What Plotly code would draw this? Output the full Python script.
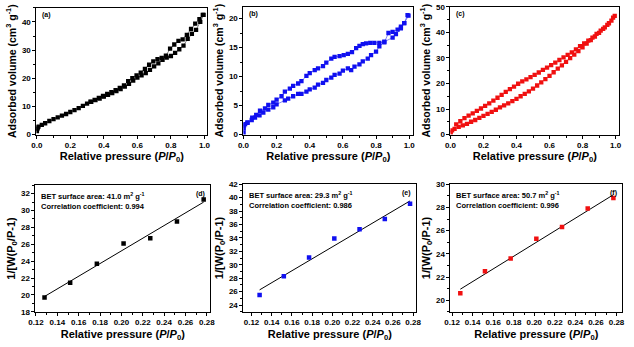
import numpy as np
import plotly.graph_objects as go

# ---- N2 adsorption/desorption isotherms ----
a_ads_x = [0.001, 0.003, 0.006, 0.01, 0.03, 0.05, 0.075, 0.1, 0.125, 0.15, 0.175, 0.2, 0.225, 0.25,
           0.275, 0.3, 0.325, 0.35, 0.375, 0.4, 0.425, 0.45, 0.475, 0.5, 0.525, 0.55, 0.575, 0.6,
           0.625, 0.65, 0.675, 0.7, 0.725, 0.75, 0.775, 0.8, 0.825, 0.85, 0.875, 0.9, 0.925, 0.95,
           0.975, 0.995]
a_ads_y = [1.2, 2.0, 2.5, 2.8, 3.4, 4.0, 4.8, 5.5, 6.1, 6.7, 7.3, 8.0, 8.7, 9.4, 10.2, 11.0, 11.6,
           12.2, 12.8, 13.5, 14.1, 14.7, 15.4, 16.1, 17.0, 18.0, 19.2, 20.2, 21.0, 21.8, 23.0, 24.2,
           25.3, 26.5, 27.3, 27.9, 29.0, 30.3, 31.6, 34.0, 35.8, 37.2, 40.0, 42.5]
a_des_x = [0.99, 0.97, 0.945, 0.92, 0.895, 0.87, 0.845, 0.82, 0.795, 0.77, 0.745, 0.72, 0.695, 0.67,
           0.645, 0.62, 0.595, 0.57, 0.545, 0.52, 0.495, 0.47, 0.445, 0.42, 0.395, 0.37, 0.345, 0.32]
a_des_y = [42.5, 41.0, 39.4, 37.5, 35.4, 33.8, 33.3, 32.0, 30.5, 28.0, 27.2, 26.8, 26.0, 24.8, 23.3,
           22.0, 21.0, 20.0, 19.0, 17.5, 16.6, 15.8, 15.1, 14.4, 13.7, 13.0, 12.3, 11.7]

b_ads_x = [0.001, 0.002, 0.004, 0.01, 0.025, 0.05, 0.07, 0.097, 0.12, 0.15, 0.18, 0.2, 0.25, 0.27,
           0.3, 0.33, 0.35, 0.38, 0.4, 0.43, 0.45, 0.48, 0.5, 0.53, 0.55, 0.58, 0.6, 0.63, 0.65, 0.67,
           0.7, 0.72, 0.75, 0.77, 0.8, 0.82, 0.85, 0.9, 0.92, 0.95, 0.97, 0.996]
b_ads_y = [0.3, 1.0, 1.6, 1.8, 2.0, 2.5, 2.9, 3.3, 3.8, 4.3, 4.7, 5.2, 5.9, 6.2, 6.6, 7.0, 7.0, 7.4,
           7.8, 8.1, 8.6, 8.9, 9.4, 9.8, 10.3, 10.5, 11.0, 11.4, 11.1, 11.7, 12.1, 12.6, 13.1, 13.7,
           14.3, 15.2, 16.0, 16.7, 17.3, 18.3, 19.2, 20.5]
b_des_x = [0.99, 0.97, 0.95, 0.93, 0.9, 0.875, 0.85, 0.82, 0.79, 0.765, 0.74, 0.72, 0.7, 0.68, 0.655,
           0.63, 0.605, 0.58, 0.55, 0.53, 0.5, 0.48, 0.45, 0.43, 0.4, 0.38, 0.35, 0.33, 0.3, 0.28,
           0.25, 0.23, 0.2, 0.18, 0.15, 0.13, 0.1, 0.077, 0.053, 0.024]
b_des_y = [20.6, 19.2, 18.6, 18.1, 17.7, 17.5, 15.9, 15.8, 15.8, 15.8, 15.7, 15.6, 15.3, 14.9, 14.2,
           13.9, 13.7, 13.5, 13.4, 13.1, 12.4, 11.8, 11.4, 11.1, 10.6, 10.1, 9.2, 8.8, 8.4, 7.9,
           7.4, 6.6, 6.0, 5.5, 5.1, 4.5, 4.1, 3.4, 2.9, 2.1]

c_ads_x = [0.002, 0.01, 0.025, 0.05, 0.075, 0.1, 0.125, 0.15, 0.175, 0.2, 0.225, 0.25, 0.275, 0.3,
           0.325, 0.35, 0.375, 0.4, 0.425, 0.45, 0.475, 0.5, 0.525, 0.55, 0.575, 0.6, 0.625, 0.65,
           0.675, 0.7, 0.725, 0.75, 0.775, 0.8, 0.825, 0.85, 0.875, 0.9, 0.925, 0.95, 0.975, 0.995]
c_ads_y = [0.8, 1.6, 2.2, 3.0, 3.6, 4.2, 5.0, 5.7, 6.5, 7.3, 8.1, 8.9, 9.7, 10.6, 11.4, 12.2, 13.1,
           14.0, 15.0, 15.9, 16.9, 18.0, 19.2, 20.4, 21.7, 23.0, 24.4, 25.8, 27.1, 28.5, 29.9, 31.3,
           32.7, 34.2, 35.6, 37.0, 38.4, 39.8, 41.4, 43.0, 44.6, 46.5]
c_des_x = [0.985, 0.96, 0.935, 0.91, 0.885, 0.86, 0.835, 0.81, 0.785, 0.76, 0.735, 0.71, 0.685, 0.66,
           0.635, 0.61, 0.585, 0.56, 0.535, 0.51, 0.485, 0.46, 0.435, 0.41, 0.385, 0.36, 0.335, 0.31,
           0.285, 0.26, 0.235, 0.21, 0.185, 0.16, 0.135, 0.11, 0.085, 0.06, 0.035]
c_des_y = [45.8, 43.6, 42.0, 40.7, 39.4, 38.0, 36.8, 35.7, 34.6, 33.4, 32.2, 31.2, 30.2, 29.2, 28.2,
           27.2, 26.2, 25.3, 24.3, 23.4, 22.5, 21.6, 20.8, 19.9, 18.8, 17.8, 16.7, 15.5, 14.4, 13.3,
           12.2, 11.2, 10.2, 9.3, 8.3, 7.4, 6.4, 5.2, 4.0]

# ---- BET plots ----
bet_x = [0.128, 0.152, 0.177, 0.202, 0.227, 0.252, 0.277]
d_bet_y = [19.7, 21.45, 23.7, 26.1, 26.7, 28.7, 31.3]
e_bet_y = [25.5, 28.3, 31.1, 33.9, 35.3, 36.8, 39.1]
f_bet_y = [20.6, 22.5, 23.6, 25.3, 26.3, 27.9, 28.8]

bet_area = ["41.0", "29.3", "50.7"]
bet_corr = ["0.994", "0.986", "0.996"]
panel_tags = ["(a)", "(b)", "(c)", "(d)", "(e)", "(f)"]

BLACK, BLUE, RED = "#000000", "#1010f0", "#f01010"
W, H = 634, 347
FONT = "Liberation Sans, Arial, sans-serif"

fig = go.Figure()

# pixel boxes of each plot area: (left, right, top, bottom)
boxes = [(30, 204, 4, 134), (241, 414, 3, 134), (452, 624, 3, 134),
         (29, 207, 186, 316), (241, 417, 185, 316), (452, 627, 185, 316)]

xranges = [[-0.002, 1.016], [0, 1.024], [0, 1.022],
           [0.1195, 0.283], [0.112, 0.283], [0.1184, 0.2855]]
yranges = [[0, 45], [0, 22], [0, 50], [18, 33], [23, 42], [19, 30]]
ydticks = [10, 5, 10, 2, 2, 2]

xtitle = "Relative pressure (<i>P</i>/<i>P</i><sub>0</sub>)"
ytitles = ["Adsorbed volume (cm<sup>3</sup> g<sup>-1</sup>)"] * 3 + \
          ["1/[W(P<sub>0</sub>/P-1)"] * 3

for i, (l, r, t, b) in enumerate(boxes):
    n = "" if i == 0 else str(i + 1)
    top_row = i < 3
    xa = dict(
        domain=[l / W, r / W], range=xranges[i], anchor="y" + n,
        showline=True, linecolor="black", linewidth=1, mirror=True,
        ticks="outside", ticklen=3, tickwidth=1, tickcolor="black",
        dtick=0.2 if top_row else 0.02, tick0=0,
        tickformat=".1f" if top_row else ".2f",
        minor=dict(ticks="outside", ticklen=2, tickcolor="black",
                   dtick=0.1 if top_row else 0.01),
        showgrid=False, zeroline=False,
        tickfont=dict(family=FONT, size=8, color="black", weight="bold"),
        title=dict(text=xtitle, standoff=1 if top_row else 3,
                   font=dict(family=FONT, size=11, color="black", weight="bold")),
    )
    ya = dict(
        domain=[1 - b / H, 1 - t / H], range=yranges[i], anchor="x" + n,
        showline=True, linecolor="black", linewidth=1, mirror=True,
        ticks="outside", ticklen=3, tickwidth=1, tickcolor="black",
        dtick=ydticks[i], tick0=0,
        minor=dict(ticks="outside", ticklen=2, tickcolor="black",
                   dtick=ydticks[i] / 2),
        showgrid=False, zeroline=False,
        tickfont=dict(family=FONT, size=8, color="black", weight="bold"),
        title=dict(text=ytitles[i], standoff=3,
                   font=dict(family=FONT, size=10.5 if top_row else 11,
                             color="black", weight="bold")),
    )
    fig.layout["xaxis" + n] = xa
    fig.layout["yaxis" + n] = ya

iso = [(a_ads_x, a_ads_y, a_des_x, a_des_y, BLACK),
       (b_ads_x, b_ads_y, b_des_x, b_des_y, BLUE),
       (c_ads_x, c_ads_y, c_des_x, c_des_y, RED)]
for i, (ax_, ay_, dx_, dy_, col) in enumerate(iso):
    n = "" if i == 0 else str(i + 1)
    for xs, ys in ((ax_, ay_), (dx_, dy_)):
        fig.add_trace(go.Scatter(
            x=xs, y=ys, mode="lines+markers", xaxis="x" + n, yaxis="y" + n,
            line=dict(color=col, width=0.5),
            marker=dict(symbol="square", size=4.3, color=col),
            showlegend=False))

bets = [(d_bet_y, BLACK), (e_bet_y, BLUE), (f_bet_y, RED)]
for j, (ys, col) in enumerate(bets):
    n = str(j + 4)
    k, c0 = np.polyfit(bet_x, ys, 1)
    fx = [bet_x[0], bet_x[-1]]
    fig.add_trace(go.Scatter(
        x=fx, y=[k * v + c0 for v in fx], mode="lines", xaxis="x" + n, yaxis="y" + n,
        line=dict(color="black", width=1), showlegend=False))
    fig.add_trace(go.Scatter(
        x=bet_x, y=ys, mode="markers", xaxis="x" + n, yaxis="y" + n,
        marker=dict(symbol="square", size=4.5, color=col), showlegend=False))
    fig.add_annotation(
        xref="x" + n + " domain", yref="y" + n + " domain", x=0.02, y=0.97,
        xanchor="left", yanchor="top", showarrow=False, align="left",
        text=f"BET surface area: {bet_area[j]} m<sup>2</sup> g<sup>-1</sup><br>"
             f"Correlation coefficient: {bet_corr[j]}",
        font=dict(family=FONT, size=7.5, color="black", weight="bold"))

for i, tag in enumerate(panel_tags):
    n = "" if i == 0 else str(i + 1)
    top_row = i < 3
    fig.add_annotation(
        xref="x" + n + " domain", yref="y" + n + " domain",
        x=0.02 if top_row else 0.98, y=0.99 if top_row else 0.98,
        xanchor="left" if top_row else "right", yanchor="top", showarrow=False,
        text=tag, font=dict(family=FONT, size=7, color="black", weight="bold"))

fig.update_layout(
    width=W, height=H, margin=dict(l=0, r=0, t=0, b=0),
    paper_bgcolor="white", plot_bgcolor="white",
    font=dict(family=FONT, color="black"),
)

fig.write_html("out.html")
